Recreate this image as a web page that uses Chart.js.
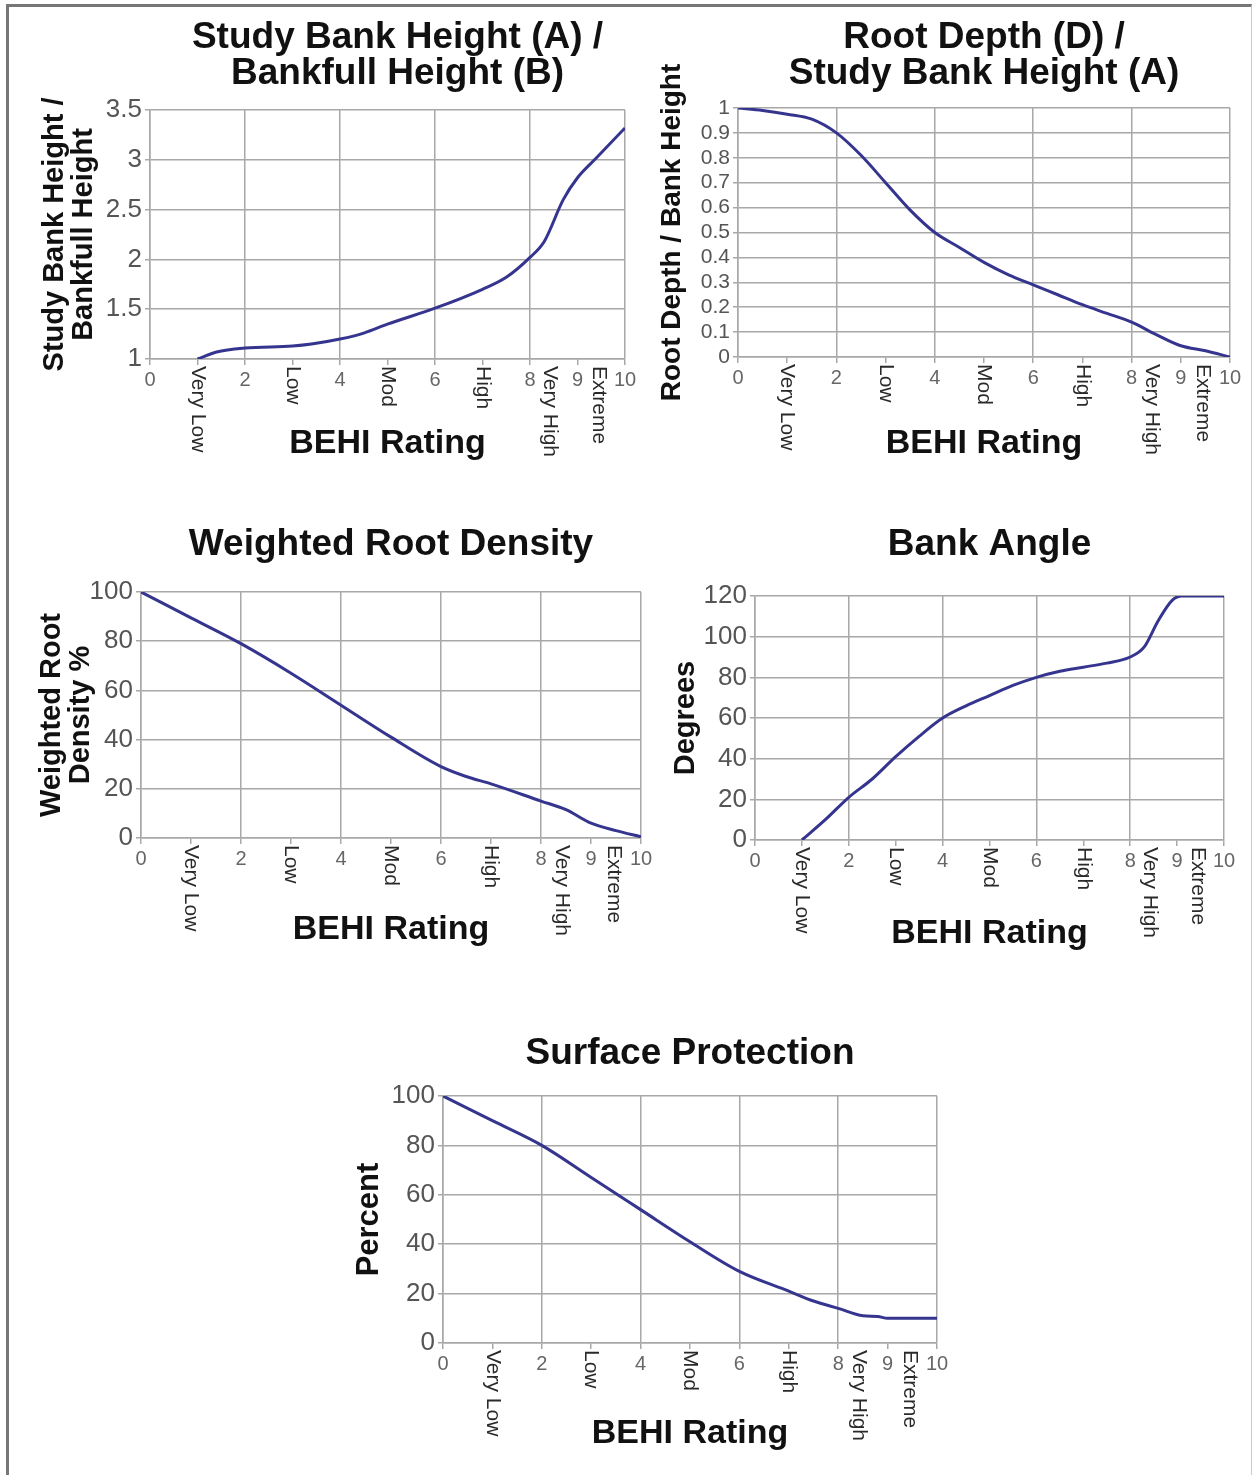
<!DOCTYPE html>
<html>
<head>
<meta charset="utf-8">
<title>BEHI Rating curves</title>
<script src="https://cdn.jsdelivr.net/npm/chart.js@4.4.0/dist/chart.umd.min.js"></script>
<style>
  html, body { margin: 0; padding: 0; background: #fff; }
  body { width: 1256px; height: 1475px; position: relative; overflow: hidden; }
  #frame {
    position: absolute; left: 6px; top: 4px; width: 1242px; height: 1490px;
    border-left: 3px solid #777; border-top: 3px solid #777; border-right: 1px solid #ccc;
  }
  canvas { position: absolute; }
</style>
</head>
<body>
<div id="frame"></div>
<canvas id="bankHeightChart" width="640" height="475" style="left:0px;top:0px"></canvas>
<canvas id="rootDepthChart" width="616" height="475" style="left:640px;top:0px"></canvas>
<canvas id="rootDensityChart" width="660" height="470" style="left:0px;top:490px"></canvas>
<canvas id="bankAngleChart" width="596" height="470" style="left:660px;top:490px"></canvas>
<canvas id="surfaceChart" width="640" height="475" style="left:330px;top:1000px"></canvas>

<script>
// BEHI classes written under each x axis
const ratingNames = ['Very Low', 'Low', 'Mod', 'High', 'Very High', 'Extreme'];
const ratingPositions = [1, 3, 5, 7, 8.42, 9.45];

// x axis ticks (shared by all five charts)
const xTickMarks = [0, 1, 2, 3, 4, 5, 6, 7, 8, 9, 10];
const xTickLabels = [0, 2, 4, 6, 8, 9, 10];
const xGridLines = [0, 2, 4, 6, 8, 10];

// Study Bank Height / Bankfull Height
const bankHeightX = [1, 1.4, 2, 3, 3.4, 4, 4.5, 5, 6, 7, 7.5, 8, 8.3, 8.7, 9, 9.4, 10];
const bankHeightY = [1.0, 1.07, 1.11, 1.13, 1.15, 1.2, 1.26, 1.35, 1.51, 1.7, 1.82, 2.02, 2.18, 2.6, 2.82, 3.02, 3.32];

// Root Depth / Study Bank Height
const rootDepthX = [0, 0.5, 1, 1.5, 2, 2.5, 3, 3.5, 4, 4.5, 5, 5.5, 6, 6.5, 7, 7.5, 8, 8.5, 9, 9.5, 10];
const rootDepthY = [1.0, 0.99, 0.975, 0.955, 0.9, 0.81, 0.7, 0.59, 0.5, 0.44, 0.38, 0.33, 0.29, 0.25, 0.21, 0.175, 0.14, 0.09, 0.045, 0.025, 0.0];

// Weighted Root Density (%)
const rootDensityX = [0, 1, 2, 3, 4, 5, 6, 6.5, 7, 8, 8.5, 9, 9.5, 10];
const rootDensityY = [100, 89.5, 79, 67, 54, 41, 29, 25, 22, 15, 11.5, 6, 3, 0.5];

// Bank Angle (degrees)
const bankAngleX = [1, 1.5, 2, 2.5, 3, 3.5, 4, 4.5, 5, 5.5, 6, 6.5, 7, 7.5, 8, 8.3, 8.6, 8.9, 9.1, 10];
const bankAngleY = [0, 10, 21, 30, 41, 51, 60, 66, 71, 76, 80, 83, 85, 87, 90, 95, 108, 118, 120, 120];

// Surface Protection (%)
const surfaceX = [0, 1, 2, 3, 4, 5, 6, 7, 7.5, 8, 8.5, 8.8, 9, 10];
const surfaceY = [100, 90, 80, 67, 54, 41, 29, 21, 17, 14, 11, 10.7, 10, 10];

const lineColor = '#35358f';
const gridColor = '#a8a8a8';
const family = '"Liberation Sans", Arial, sans-serif';

// Chart heading centred over the plot, plus the rotated class names
const behiDecor = {
    id: 'behiDecor',
    afterDraw(chart, args, opts) {
        const ctx = chart.ctx;
        const area = chart.chartArea;
        const xScale = chart.scales.x;
        ctx.save();

        ctx.fillStyle = '#111';
        ctx.font = 'bold 37px ' + family;
        ctx.textAlign = 'center';
        ctx.textBaseline = 'middle';
        const cx = (area.left + area.right) / 2 + (opts.headingShift || 0);
        opts.heading.forEach((line, i) => {
            ctx.fillText(line, cx, opts.headingY + i * 36);
        });

        ctx.fillStyle = '#2a2a2a';
        ctx.font = '21px ' + family;
        ctx.textAlign = 'left';
        ratingNames.forEach((name, i) => {
            ctx.save();
            ctx.translate(xScale.getPixelForValue(ratingPositions[i]), area.bottom + 7);
            ctx.rotate(Math.PI / 2);
            ctx.fillText(name, 0, 0);
            ctx.restore();
        });

        ctx.restore();
    }
};

function makeChart(id, s) {
    const points = s.xs.map((v, i) => ({ x: v, y: s.ys[i] }));
    return new Chart(document.getElementById(id), {
        type: 'line',
        data: {
            datasets: [{
                data: points,
                borderColor: lineColor,
                borderWidth: 3,
                pointRadius: 0,
                cubicInterpolationMode: 'monotone',
                fill: false
            }]
        },
        options: {
            responsive: false,
            animation: false,
            devicePixelRatio: 1,
            layout: { padding: { top: s.padTop, right: s.padRight, left: 0, bottom: 0 } },
            plugins: {
                legend: { display: false },
                tooltip: { enabled: false },
                behiDecor: { heading: s.heading, headingY: s.headingY, headingShift: s.headingShift || 0 }
            },
            scales: {
                x: {
                    type: 'linear',
                    min: 0,
                    max: 10,
                    afterBuildTicks: sc => { sc.ticks = xTickMarks.map(v => ({ value: v })); },
                    afterFit: sc => { sc.height = s.xHeight; },
                    grid: {
                        color: c => (c.tick && xGridLines.includes(c.tick.value)) ? gridColor : 'rgba(0,0,0,0)',
                        tickColor: gridColor,
                        lineWidth: 1.5,
                        tickLength: 6
                    },
                    border: { color: gridColor, width: 1.5 },
                    ticks: {
                        autoSkip: false,
                        maxRotation: 0,
                        minRotation: 0,
                        padding: 3,
                        color: '#666',
                        font: { size: 20, family: family },
                        callback: v => xTickLabels.includes(v) ? String(v) : ''
                    },
                    title: {
                        display: true,
                        text: 'BEHI Rating',
                        color: '#111',
                        font: { size: 34, weight: 'bold', family: family, lineHeight: 1.2 },
                        padding: { top: 0, bottom: s.xTitlePad }
                    }
                },
                y: {
                    min: s.yMin,
                    max: s.yMax,
                    afterFit: sc => { sc.width = s.yWidth; },
                    grid: { color: gridColor, lineWidth: 1.5, tickLength: 5 },
                    border: { color: gridColor, width: 1.5 },
                    ticks: {
                        stepSize: s.yStep,
                        autoSkip: false,
                        padding: 3,
                        color: '#555',
                        font: { size: s.yTickSize, family: family, lineHeight: 1.0 },
                        callback: v => String(Math.round(v * 100) / 100)
                    },
                    title: {
                        display: true,
                        text: s.yTitle,
                        color: '#111',
                        font: { size: s.yTitleSize, weight: 'bold', family: family, lineHeight: 1.0 },
                        padding: { top: s.yTitlePad, bottom: 0 }
                    }
                }
            }
        },
        plugins: [behiDecor]
    });
}

makeChart('bankHeightChart', {
    xs: bankHeightX, ys: bankHeightY,
    heading: ['Study Bank Height (A) /', 'Bankfull Height (B)'], headingY: 38, headingShift: 10,
    yTitle: ['Study Bank Height /', 'Bankfull Height'], yTitleSize: 29, yTitlePad: 40,
    yMin: 1, yMax: 3.5, yStep: 0.5, yTickSize: 26,
    padTop: 110, padRight: 15, yWidth: 150, xHeight: 116, xTitlePad: 11
});

makeChart('rootDepthChart', {
    xs: rootDepthX, ys: rootDepthY,
    heading: ['Root Depth (D) /', 'Study Bank Height (A)'], headingY: 38,
    yTitle: 'Root Depth / Bank Height', yTitleSize: 28, yTitlePad: 18,
    yMin: 0, yMax: 1, yStep: 0.1, yTickSize: 21,
    padTop: 108, padRight: 26, yWidth: 98, xHeight: 118, xTitlePad: 11
});

makeChart('rootDensityChart', {
    xs: rootDensityX, ys: rootDensityY,
    heading: ['Weighted Root Density'], headingY: 55,
    yTitle: ['Weighted Root', 'Density %'], yTitleSize: 29, yTitlePad: 37,
    yMin: 0, yMax: 100, yStep: 20, yTickSize: 26,
    padTop: 102, padRight: 19, yWidth: 141, xHeight: 122, xTitlePad: 10
});

makeChart('bankAngleChart', {
    xs: bankAngleX, ys: bankAngleY,
    heading: ['Bank Angle'], headingY: 55,
    yTitle: 'Degrees', yTitleSize: 29, yTitlePad: 11,
    yMin: 0, yMax: 120, yStep: 20, yTickSize: 26,
    padTop: 106, padRight: 32, yWidth: 95, xHeight: 120, xTitlePad: 6
});

makeChart('surfaceChart', {
    xs: surfaceX, ys: surfaceY,
    heading: ['Surface Protection'], headingY: 54,
    yTitle: 'Percent', yTitleSize: 31, yTitlePad: 24,
    yMin: 0, yMax: 100, yStep: 20, yTickSize: 26,
    padTop: 96, padRight: 33, yWidth: 113, xHeight: 132, xTitlePad: 21
});
</script>
</body>
</html>
